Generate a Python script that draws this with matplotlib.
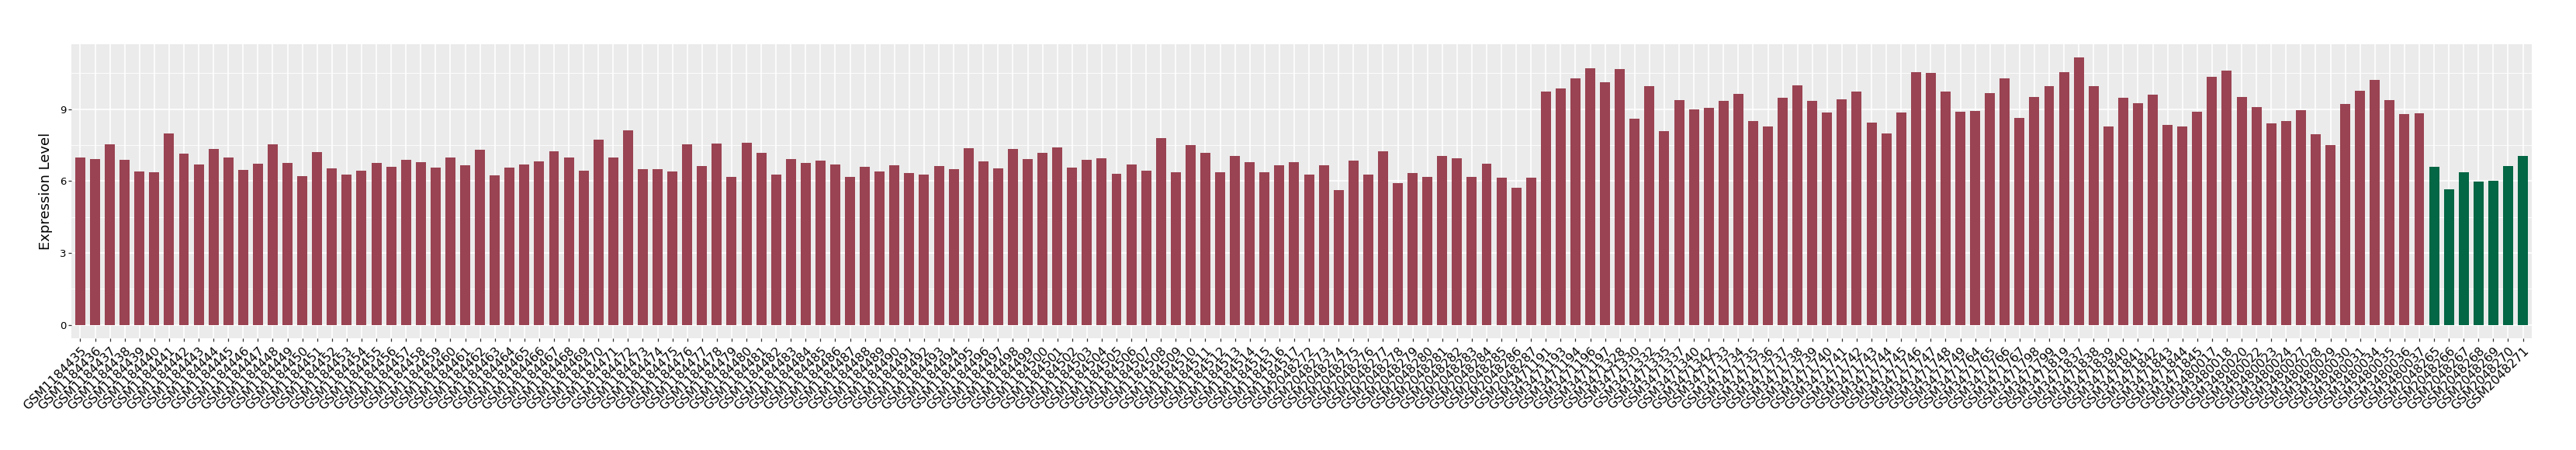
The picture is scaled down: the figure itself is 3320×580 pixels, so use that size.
import matplotlib
matplotlib.use("Agg")
import matplotlib.pyplot as plt
from matplotlib.ticker import MultipleLocator

# sample ids
tumor_ids = (["GSM%d" % n for n in range(1184435, 1184518)]
             + ["GSM%d" % n for n in range(2048272, 2048288)]
             + ["GSM%d" % n for n in [3471191, 3471193, 3471194, 3471196, 3471197,
                                      3471328, 3471330, 3471332, 3471335, 3471337,
                                      3471340, 3471342]]
             + ["GSM%d" % n for n in range(3471733, 3471750)]
             + ["GSM%d" % n for n in [3471764, 3471765, 3471766, 3471767, 3471798,
                                      3471799, 3471819, 3471837]]
             + ["GSM%d" % n for n in range(3471838, 3471846)]
             + ["GSM%d" % n for n in [3480017, 3480018, 3480020, 3480022, 3480023,
                                      3480024, 3480027, 3480028, 3480029, 3480030,
                                      3480031, 3480034, 3480035, 3480036, 3480037]])
normal_ids = ["GSM%d" % n for n in range(2048265, 2048272)]

tumor_expr = [
    6.98, 6.91, 7.53, 6.88, 6.39, 6.36, 7.99, 7.14, 6.68, 7.34,
    6.98, 6.46, 6.72, 7.53, 6.75, 6.20, 7.21, 6.52, 6.26, 6.42,
    6.75, 6.59, 6.88, 6.78, 6.55, 6.98, 6.65, 7.30, 6.23, 6.55,
    6.68, 6.82, 7.24, 6.98, 6.42, 7.73, 6.98, 8.12, 6.49, 6.49,
    6.39, 7.53, 6.62, 7.57, 6.16, 7.60, 7.17, 6.26, 6.91, 6.75,
    6.85, 6.68, 6.16, 6.59, 6.39, 6.65, 6.33, 6.26, 6.62, 6.49,
    7.37, 6.82, 6.52, 7.34, 6.91, 7.17, 7.40, 6.55, 6.88, 6.95,
    6.29, 6.68, 6.42, 7.79, 6.36, 7.50, 7.17, 6.36, 7.04, 6.78,
    6.36, 6.65, 6.78,
    6.26, 6.65, 5.61, 6.85, 6.26, 7.24, 5.90, 6.33, 6.16, 7.04,
    6.95, 6.16, 6.72, 6.13, 5.71, 6.13,
    9.75, 9.85, 10.30, 10.70, 10.11, 10.66, 8.61, 9.95, 8.09, 9.39,
    9.00, 9.07, 9.36, 9.65, 8.51, 8.28, 9.46, 10.01, 9.36, 8.87,
    9.42, 9.72, 8.45, 7.99, 8.87, 10.53, 10.50, 9.75, 8.90, 8.93,
    9.68, 10.30, 8.64, 9.52, 9.95, 10.53, 11.15, 9.95, 8.28, 9.46,
    9.26, 9.59, 8.35, 8.28, 8.90, 10.34, 10.60, 9.52, 9.10, 8.41,
    8.51, 8.97, 7.96, 7.50, 9.23, 9.78, 10.21, 9.39, 8.80, 8.84,
]
normal_expr = [6.59, 5.67, 6.36, 5.97, 6.00, 6.62, 7.04]

samples = tumor_ids + normal_ids
values = tumor_expr + normal_expr
colors = ["#9A4352"] * len(tumor_ids) + ["#036644"] * len(normal_ids)

fig = plt.figure(figsize=(33.2, 5.8), dpi=100)
ax = fig.add_axes([92 / 3320, 1 - 436 / 580, (3263 - 92) / 3320, (436 - 57) / 580])

x = list(range(len(samples)))
ax.bar(x, values, width=0.68, color=colors, zorder=3)

ax.set_facecolor("#EBEBEB")
for s in ax.spines.values():
    s.set_visible(False)
ax.set_xlim(-0.6, len(samples) - 0.4)
ax.set_ylim(-0.56, 11.71)
ax.yaxis.set_major_locator(MultipleLocator(3))
ax.yaxis.set_minor_locator(MultipleLocator(1.5))
ax.grid(which="major", color="white", linewidth=1.2, zorder=0)
ax.grid(which="minor", axis="y", color="white", linewidth=0.6, zorder=0)
ax.set_axisbelow(True)

ax.set_xticks(x)
ax.set_xticklabels(samples, rotation=45, ha="right", va="top",
                   rotation_mode="anchor", fontsize=11.5)
ax.tick_params(axis="both", which="major", length=3, color="#333333", width=0.9)
ax.tick_params(axis="y", which="minor", length=0)
ax.tick_params(axis="y", labelsize=9.5, pad=2)
ax.tick_params(axis="x", pad=3)

ax.set_ylabel("Expression Level", fontsize=13, labelpad=6)

fig.savefig("out.png", dpi=100)
